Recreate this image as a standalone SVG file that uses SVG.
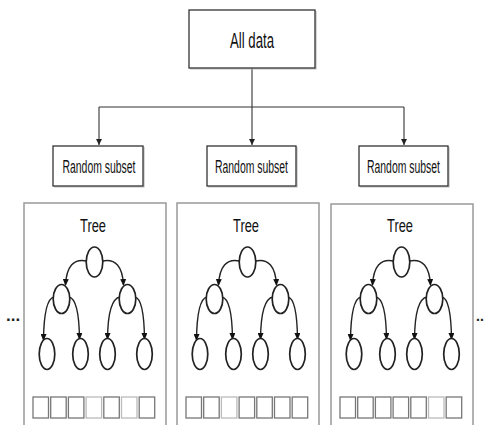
<svg xmlns="http://www.w3.org/2000/svg" width="485" height="425" viewBox="0 0 485 425">
<style>
.box{fill:#fff;stroke:#333;stroke-width:1.3}
.shadow{fill:none;stroke:#bbb;stroke-width:1.2}
.panel{fill:#fff;stroke:#999;stroke-width:1.5}
.lbl{font-family:"Liberation Sans",Arial,sans-serif;fill:#111;text-anchor:middle}
.conn{fill:none;stroke:#333;stroke-width:1.1}
.tedge{fill:none;stroke:#222;stroke-width:1.4}
.tnode{fill:#fff;stroke:#222;stroke-width:1.7}
.sq{fill:#fff;stroke:#777;stroke-width:1.3}
.sql{fill:#fff;stroke:#bbb;stroke-width:1.3}
.dots{font-family:"Liberation Sans",Arial,sans-serif;font-weight:bold;fill:#222}
</style>
<defs>
<marker id="ah" markerUnits="userSpaceOnUse" markerWidth="6" markerHeight="6" refX="6" refY="3" orient="auto">
<path d="M0,0 L6,3 L0,6 z" fill="#222"/>
</marker>
<marker id="th" markerUnits="userSpaceOnUse" markerWidth="7" markerHeight="6" refX="6" refY="3" orient="auto">
<path d="M0,0 L7,3 L0,6 z" fill="#111"/>
</marker>
</defs>

<g id="connectors">
<path class="conn" d="M252,68 V107"/>
<path class="conn" d="M99,107 H404"/>
<path class="conn" d="M99,107 V145" marker-end="url(#ah)"/>
<path class="conn" d="M252,107 V145" marker-end="url(#ah)"/>
<path class="conn" d="M404,107 V145" marker-end="url(#ah)"/>
</g>

<g id="all-data">
<path class="shadow" d="M316,11 V69 H190"/>
<rect class="box" x="189" y="10" width="126" height="58"/>
<text class="lbl" x="252" y="48" font-size="22" textLength="44" lengthAdjust="spacingAndGlyphs">All data</text>
</g>

<g id="subset-1">
<path class="shadow" d="M144,147 V187 H54"/>
<rect class="box" x="53" y="146" width="90" height="40"/>
<text class="lbl" x="99" y="173" font-size="17.5" textLength="73" lengthAdjust="spacingAndGlyphs">Random subset</text>
</g>
<g id="subset-2">
<path class="shadow" d="M297,147 V187 H208"/>
<rect class="box" x="207" y="146" width="89" height="40"/>
<text class="lbl" x="251.5" y="173" font-size="17.5" textLength="73" lengthAdjust="spacingAndGlyphs">Random subset</text>
</g>
<g id="subset-3">
<path class="shadow" d="M449,147 V187 H360"/>
<rect class="box" x="359" y="146" width="89" height="40"/>
<text class="lbl" x="403.5" y="173" font-size="17.5" textLength="73" lengthAdjust="spacingAndGlyphs">Random subset</text>
</g>

<g id="panel-1">
<rect class="panel" x="24" y="203" width="142" height="240"/>
<text class="lbl" x="93" y="232" font-size="18" textLength="26" lengthAdjust="spacingAndGlyphs">Tree</text>
<g class="tree-edges">
<path class="tedge" d="M86.5,261 Q67,257 65.5,285" marker-end="url(#th)"/>
<path class="tedge" d="M102.5,261 Q122,257 123.5,285" marker-end="url(#th)"/>
<path class="tedge" d="M54,297 Q44,299 43.5,340" marker-end="url(#th)"/>
<path class="tedge" d="M69,297 Q79,299 79.5,339" marker-end="url(#th)"/>
<path class="tedge" d="M120,297 Q108,299 107.5,339" marker-end="url(#th)"/>
<path class="tedge" d="M135,297 Q144,299 144.5,339" marker-end="url(#th)"/>
</g>
<g id="p1-root"><ellipse class="tnode" cx="94.5" cy="262" rx="8.3" ry="15"/></g>
<g id="p1-l"><ellipse class="tnode" cx="61.5" cy="299" rx="8.3" ry="14.5"/></g>
<g id="p1-r"><ellipse class="tnode" cx="127.5" cy="299" rx="8.3" ry="14.5"/></g>
<g id="p1-ll"><ellipse class="tnode" cx="47" cy="354" rx="7.8" ry="15.5"/></g>
<g id="p1-lr"><ellipse class="tnode" cx="80.5" cy="354" rx="7.8" ry="15.5"/></g>
<g id="p1-rl"><ellipse class="tnode" cx="107.5" cy="354" rx="7.8" ry="15.5"/></g>
<g id="p1-rr"><ellipse class="tnode" cx="144.5" cy="354" rx="7.8" ry="15.5"/></g>
<g id="p1-data">
<rect class="sq" x="33" y="397" width="15.5" height="21"/>
<rect class="sq" x="50.7" y="397" width="15.5" height="21"/>
<rect class="sq" x="68.4" y="397" width="15.5" height="21"/>
<rect class="sql" x="86.1" y="397" width="15.5" height="21"/>
<rect class="sq" x="103.8" y="397" width="15.5" height="21"/>
<rect class="sql" x="121.5" y="397" width="15.5" height="21"/>
<rect class="sq" x="139.2" y="397" width="15.5" height="21"/>
</g>
</g>

<g id="panel-2" transform="translate(153,0)">
<rect class="panel" x="24" y="203" width="142" height="240"/>
<text class="lbl" x="93" y="232" font-size="18" textLength="26" lengthAdjust="spacingAndGlyphs">Tree</text>
<g class="tree-edges">
<path class="tedge" d="M86.5,261 Q67,257 65.5,285" marker-end="url(#th)"/>
<path class="tedge" d="M102.5,261 Q122,257 123.5,285" marker-end="url(#th)"/>
<path class="tedge" d="M54,297 Q44,299 43.5,340" marker-end="url(#th)"/>
<path class="tedge" d="M69,297 Q79,299 79.5,339" marker-end="url(#th)"/>
<path class="tedge" d="M120,297 Q108,299 107.5,339" marker-end="url(#th)"/>
<path class="tedge" d="M135,297 Q144,299 144.5,339" marker-end="url(#th)"/>
</g>
<g id="p2-root"><ellipse class="tnode" cx="94.5" cy="262" rx="8.3" ry="15"/></g>
<g id="p2-l"><ellipse class="tnode" cx="61.5" cy="299" rx="8.3" ry="14.5"/></g>
<g id="p2-r"><ellipse class="tnode" cx="127.5" cy="299" rx="8.3" ry="14.5"/></g>
<g id="p2-ll"><ellipse class="tnode" cx="47" cy="354" rx="7.8" ry="15.5"/></g>
<g id="p2-lr"><ellipse class="tnode" cx="80.5" cy="354" rx="7.8" ry="15.5"/></g>
<g id="p2-rl"><ellipse class="tnode" cx="107.5" cy="354" rx="7.8" ry="15.5"/></g>
<g id="p2-rr"><ellipse class="tnode" cx="144.5" cy="354" rx="7.8" ry="15.5"/></g>
<g id="p2-data">
<rect class="sq" x="33" y="397" width="15.5" height="21"/>
<rect class="sq" x="50.7" y="397" width="15.5" height="21"/>
<rect class="sql" x="68.4" y="397" width="15.5" height="21"/>
<rect class="sq" x="86.1" y="397" width="15.5" height="21"/>
<rect class="sq" x="103.8" y="397" width="15.5" height="21"/>
<rect class="sq" x="121.5" y="397" width="15.5" height="21"/>
<rect class="sq" x="139.2" y="397" width="15.5" height="21"/>
</g>
</g>

<g id="panel-3" transform="translate(307,0)">
<rect class="panel" x="24" y="204" width="142" height="240"/>
<text class="lbl" x="93" y="232" font-size="18" textLength="26" lengthAdjust="spacingAndGlyphs">Tree</text>
<g class="tree-edges">
<path class="tedge" d="M86.5,261 Q67,257 65.5,285" marker-end="url(#th)"/>
<path class="tedge" d="M102.5,261 Q122,257 123.5,285" marker-end="url(#th)"/>
<path class="tedge" d="M54,297 Q44,299 43.5,340" marker-end="url(#th)"/>
<path class="tedge" d="M69,297 Q79,299 79.5,339" marker-end="url(#th)"/>
<path class="tedge" d="M120,297 Q108,299 107.5,339" marker-end="url(#th)"/>
<path class="tedge" d="M135,297 Q144,299 144.5,339" marker-end="url(#th)"/>
</g>
<g id="p3-root"><ellipse class="tnode" cx="94.5" cy="262" rx="8.3" ry="15"/></g>
<g id="p3-l"><ellipse class="tnode" cx="61.5" cy="299" rx="8.3" ry="14.5"/></g>
<g id="p3-r"><ellipse class="tnode" cx="127.5" cy="299" rx="8.3" ry="14.5"/></g>
<g id="p3-ll"><ellipse class="tnode" cx="47" cy="354" rx="7.8" ry="15.5"/></g>
<g id="p3-lr"><ellipse class="tnode" cx="80.5" cy="354" rx="7.8" ry="15.5"/></g>
<g id="p3-rl"><ellipse class="tnode" cx="107.5" cy="354" rx="7.8" ry="15.5"/></g>
<g id="p3-rr"><ellipse class="tnode" cx="144.5" cy="354" rx="7.8" ry="15.5"/></g>
<g id="p3-data">
<rect class="sq" x="33" y="397" width="15.5" height="21"/>
<rect class="sq" x="50.7" y="397" width="15.5" height="21"/>
<rect class="sq" x="68.4" y="397" width="15.5" height="21"/>
<rect class="sq" x="86.1" y="397" width="15.5" height="21"/>
<rect class="sq" x="103.8" y="397" width="15.5" height="21"/>
<rect class="sql" x="121.5" y="397" width="15.5" height="21"/>
<rect class="sq" x="139.2" y="397" width="15.5" height="21"/>
</g>
</g>

<text class="dots" x="6" y="321" font-size="17">...</text>
<text class="dots" x="476" y="321" font-size="14">..</text>
</svg>
